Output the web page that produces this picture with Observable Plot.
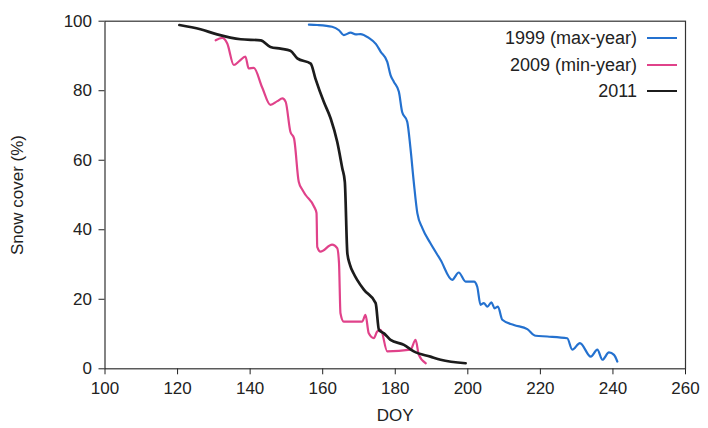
<!DOCTYPE html>
<html><head><meta charset="utf-8">
<script src="https://cdn.jsdelivr.net/npm/d3@7"></script>
<script src="https://cdn.jsdelivr.net/npm/@observablehq/plot@0.6"></script>
<style>
body{margin:0;background:#fff;font-family:"Liberation Sans",Arial,sans-serif;}
#wrap{position:relative;width:708px;height:428px;}
#legend{position:absolute;right:31px;top:25px;font-size:18px;color:#222;}
.row{display:flex;align-items:center;justify-content:flex-end;height:26.5px;line-height:26.5px;}
.sw{display:inline-block;width:30px;height:2px;margin-left:10px;}
</style>
</head><body>
<div id="wrap"><div id="legend"></div></div>
<script>
const seriesNames = ["1999 (max-year)", "2009 (min-year)", "2011"];
const seriesColors = ["#2471cf", "#e0428a", "#1c1c1c"];

const doy1999 = [156.2,158.5,162.6,164.5,165.8,167.7,169.1,170.4,172.7,174.7,176.0,177.8,178.7,179.6,181.0,181.9,183.3,184.2,185.1,186.1,187.5,189.7,192.5,195.7,197.5,199.4,201.7,202.6,203.5,204.4,205.4,206.5,207.4,208.3,209.5,212.7,216.4,218.7,221.9,227.4,228.8,230.9,233.9,235.7,237.1,238.9,240.3,241.2];
const cover1999 = [99,98.9,98.4,97.4,96,96.7,96.2,96.3,95.2,93.4,91.2,88.3,84.5,82.6,79.7,73.9,71.1,63.4,53.8,44.7,40.4,36.1,31.3,25.6,27.7,25.1,25.1,23.6,18.4,18.9,17.9,19.1,17.4,17.9,14.1,12.6,11.4,9.5,9.3,8.8,5.5,7.4,3.5,5.5,2.6,4.7,4,2.1];

const doy2009 = [130.5,132.3,133.7,135.5,137,138.7,139.6,141,143.3,145.6,147.5,148.9,149.8,151.1,152.1,153.4,154.4,155.3,157.6,158.3,158.5,159.4,162.6,164,164.5,164.9,165.8,170.9,171.8,172.7,174.1,175,176,177.8,184.2,185.6,186.5,188.4];
const cover2009 = [94.5,95.2,93.6,87.4,88.5,89.8,86.4,86.6,81,75.9,77,77.8,76.8,68.2,66.3,53.8,51.5,50,46.7,44.8,35.1,33.7,35.7,34.7,30.4,16,13.6,13.6,15.5,10.2,8.8,10.7,11.2,5,5.5,8.3,4,1.6];

const doy2011 = [120.5,126.3,130.9,137.4,142.9,145.6,148.4,151.1,153.0,156.7,158.0,160.3,162.2,164.0,165.4,166.1,166.8,167.5,168.5,169.5,171.4,174.6,175.5,176.9,178.7,182.4,185.1,189.7,192.5,199.4];
const cover2011 = [98.9,97.7,96.2,94.8,94.5,92.6,92.1,91.5,89.3,87.8,83.5,76.8,72,65.3,57.7,53.8,33.2,30,27.5,25.6,22.7,18.9,11.2,10.2,8.3,6.9,5,3.5,2.6,1.6];

const xTicks = [100,120,140,160,180,200,220,240,260];
const yTicks = [0,20,40,60,80,100];

const rows = [];
[[doy1999,cover1999],[doy2009,cover2009],[doy2011,cover2011]].forEach(([xs,ys],i)=>{
  xs.forEach((x,j)=>rows.push({series: seriesNames[i], doy: x, cover: ys[j]}));
});

const chart = Plot.plot({
  width: 708, height: 428,
  marginLeft: 104.5, marginRight: 23, marginTop: 20.7, marginBottom: 59.7,
  style: {fontFamily: '"Liberation Sans", Arial, sans-serif', fontSize: "17px", color: "#222", background: "#fff"},
  x: {domain: [100, 260], ticks: xTicks, tickSize: 6, tickPadding: 7, label: "DOY", labelArrow: "none", labelAnchor: "center", labelOffset: 52},
  y: {domain: [0, 100], ticks: yTicks, tickSize: 6, tickPadding: 7, label: "Snow cover (%)", labelArrow: "none", labelAnchor: "center", labelOffset: 94},
  color: {domain: seriesNames, range: seriesColors},
  marks: [
    Plot.frame({stroke: "#333", strokeWidth: 1.2}),
    Plot.line(rows.filter(d => d.series !== "2011"), {x: "doy", y: "cover", z: "series", stroke: "series", strokeWidth: 2.2, curve: "monotone-x"}),
    Plot.line(rows.filter(d => d.series === "2011"), {x: "doy", y: "cover", stroke: "series", strokeWidth: 2.7, curve: "monotone-x"})
  ]
});
document.getElementById("wrap").prepend(chart);

const lg = document.getElementById("legend");
seriesNames.forEach((n,i)=>{
  const r = document.createElement("div"); r.className = "row";
  const t = document.createElement("span"); t.textContent = n;
  const s = document.createElement("span"); s.className = "sw"; s.style.background = seriesColors[i];
  r.append(t, s); lg.append(r);
});
</script>
</body></html>
